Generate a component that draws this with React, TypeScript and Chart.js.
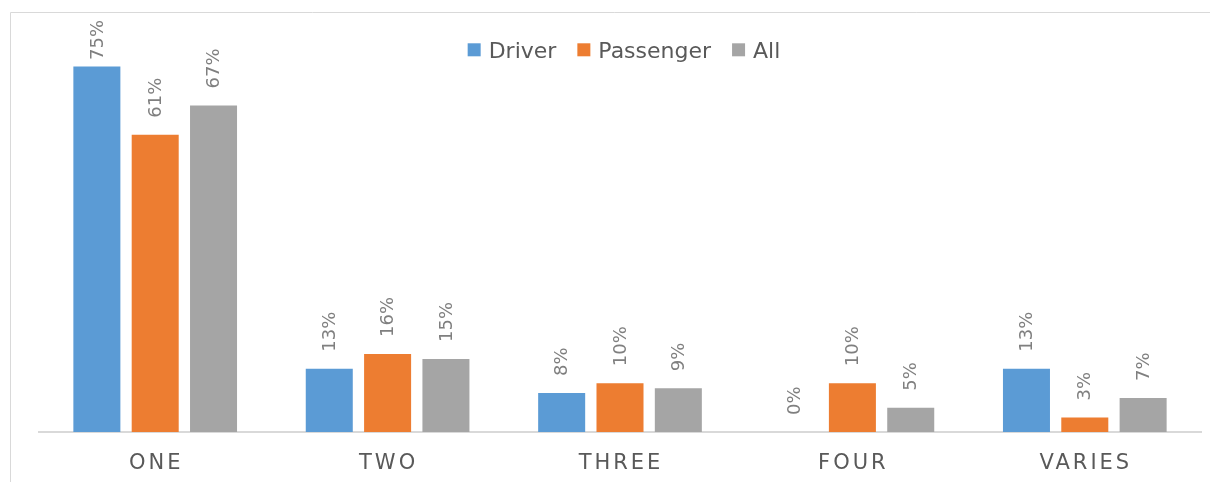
import React, { useEffect, useRef } from "react";
import { Chart, registerables } from "chart.js";

Chart.register(...registerables);

const categories = ["ONE", "TWO", "THREE", "FOUR", "VARIES"];
const seriesNames = ["Driver", "Passenger", "All"];
const driverValues = [75, 13, 8, 0, 13];
const passengerValues = [61, 16, 10, 10, 3];
const allValues = [67, 15, 9, 5, 7];
const seriesColors = ["#5B9BD5", "#ED7D31", "#A5A5A5"];

const FONT = '"DejaVu Sans", sans-serif';

const customPlugin = {
  id: "custom",
  afterDraw(chart: any) {
    const ctx = chart.ctx as CanvasRenderingContext2D;
    const area = chart.chartArea;
    ctx.save();
    // frame (top + left)
    ctx.strokeStyle = "#d9d9d9";
    ctx.lineWidth = 1;
    ctx.beginPath();
    ctx.moveTo(2.5, chart.height);
    ctx.lineTo(2.5, 4.5);
    ctx.lineTo(chart.width, 4.5);
    ctx.stroke();

    // value labels
    ctx.font = `18px ${FONT}`;
    ctx.fillStyle = "#7f7f7f";
    ctx.textAlign = "left";
    ctx.textBaseline = "middle";
    chart.data.datasets.forEach((ds: any, di: number) => {
      const meta = chart.getDatasetMeta(di);
      meta.data.forEach((bar: any, i: number) => {
        const text = `${ds.data[i]}%`;
        const w = ctx.measureText(text).width;
        let start = bar.y - 17;
        if (start - w < 12) start = 12 + w;
        ctx.save();
        ctx.translate(bar.x + 1, start);
        ctx.rotate(-Math.PI / 2);
        ctx.fillText(text, 0, 0);
        ctx.restore();
      });
    });

    // x category labels with letter spacing
    const xScale = chart.scales.x;
    ctx.font = `21px ${FONT}`;
    ctx.fillStyle = "#595959";
    ctx.textAlign = "center";
    ctx.textBaseline = "alphabetic";
    (ctx as any).letterSpacing = "3px";
    chart.data.labels.forEach((lab: string, i: number) => {
      ctx.fillText(lab, xScale.getPixelForValue(i) + 1, 461);
    });
    (ctx as any).letterSpacing = "0px";

    // legend
    ctx.font = `22px ${FONT}`;
    ctx.textAlign = "left";
    const box = 13;
    const gapBoxText = 8;
    const gapItems = 21;
    const widths = chart.data.datasets.map((ds: any) => ctx.measureText(ds.label).width);
    let total = 0;
    widths.forEach((w: number, i: number) => {
      total += box + gapBoxText + w + (i < widths.length - 1 ? gapItems : 0);
    });
    let x = (area.left + area.right) / 2 + 4 - total / 2;
    chart.data.datasets.forEach((ds: any, i: number) => {
      ctx.fillStyle = ds.backgroundColor;
      ctx.fillRect(x, 35.3, box, box);
      x += box + gapBoxText;
      ctx.fillStyle = "#595959";
      ctx.fillText(ds.label, x, 49.5);
      x += widths[i] + gapItems;
    });
    ctx.restore();
  },
};

export default function App() {
  const ref = useRef<HTMLCanvasElement | null>(null);
  useEffect(() => {
    document.body.style.overflow = "hidden";
    const canvas = ref.current;
    if (!canvas) return;
    const chart = new Chart(canvas, {
      type: "bar",
      data: {
        labels: categories,
        datasets: [driverValues, passengerValues, allValues].map((d, i) => ({
          label: seriesNames[i],
          data: d,
          backgroundColor: seriesColors[i],
          borderWidth: 0,
          categoryPercentage: 0.753,
          barPercentage: 0.806,
        })),
      },
      options: {
        responsive: false,
        animation: false,
        layout: { padding: { left: 31, right: 17, top: 34, bottom: 50 } },
        plugins: { legend: { display: false }, tooltip: { enabled: false } },
        scales: {
          x: {
            grid: { display: false, drawTicks: false },
            ticks: { display: false },
            border: { display: true, color: "#d9d9d9", width: 2 },
          },
          y: { display: false, min: 0, max: 80 },
        },
      },
      plugins: [customPlugin],
    });
    return () => chart.destroy();
  }, []);
  return (
    <div style={{ width: 1210, height: 474 }}>
      <canvas ref={ref} width={1210} height={474} style={{ display: "block" }} />
    </div>
  );
}
